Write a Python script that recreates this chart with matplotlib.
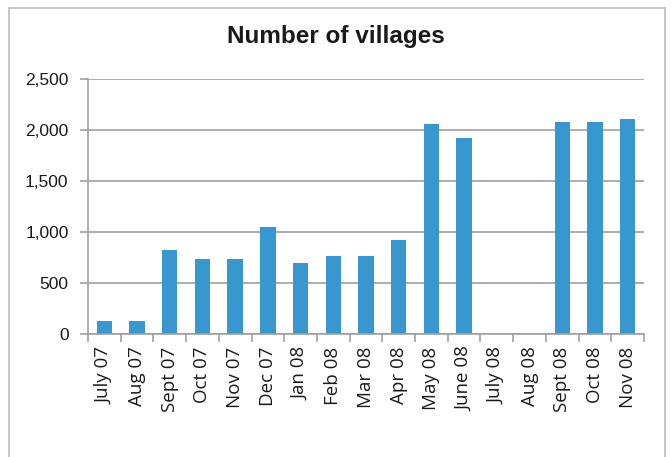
import numpy as np
import matplotlib
matplotlib.use('Agg')
import matplotlib.pyplot as plt
from matplotlib.lines import Line2D
from matplotlib.ticker import FuncFormatter

months = ['July 07', 'Aug 07', 'Sept 07', 'Oct 07', 'Nov 07', 'Dec 07',
          'Jan 08', 'Feb 08', 'Mar 08', 'Apr 08', 'May 08', 'June 08',
          'July 08', 'Aug 08', 'Sept 08', 'Oct 08', 'Nov 08']
villages = [130, 130, 820, 740, 740, 1050, 700, 760, 760, 920,
            2060, 1920, 0, 0, 2080, 2080, 2110]
yticks = [0, 500, 1000, 1500, 2000, 2500]

bar_col = '#3797ce'
grid_col = '#a0a0a0'

fig = plt.figure(figsize=(6.71, 4.57), dpi=100)
ax = fig.add_axes([88/671, 1 - 334/457, (644 - 88)/671, (334 - 79)/457])

x = np.arange(len(months))
ax.bar(x, villages, width=0.47, color=bar_col, zorder=3)

ax.set_xlim(-0.5, len(months) - 0.5)
ax.set_ylim(0, 2500)
ax.set_yticks(yticks)
ax.yaxis.set_major_formatter(FuncFormatter(lambda v, p: '{:,.0f}'.format(v)))
ax.grid(axis='y', color=grid_col, linewidth=1.2, zorder=0)

# category labels at centres, tick marks at the boundaries (Excel style)
ax.set_xticks(x)
ax.set_xticklabels(months, rotation=90, family='Open Sans', fontsize=13.5,
                   color='#1a1a1a')
ax.set_xticks(np.arange(-0.5, len(months)), minor=True)
ax.tick_params(axis='x', which='major', length=0, pad=9)
ax.tick_params(axis='x', which='minor', length=6, width=1.2, color=grid_col,
               direction='out')
ax.tick_params(axis='y', length=6, width=1.2, color=grid_col, pad=8,
               labelsize=12.5, labelcolor='#1a1a1a')
for lab in ax.get_yticklabels():
    lab.set_family('Liberation Sans')

for s in ['top', 'right']:
    ax.spines[s].set_visible(False)
for s in ['left', 'bottom']:
    ax.spines[s].set_color(grid_col)
    ax.spines[s].set_linewidth(1.2)
    ax.spines[s].set_zorder(4)

fig.text(0.5, 1 - 37/457, 'Number of villages', ha='center', va='center',
         family='Liberation Sans', fontweight='bold', fontsize=17.5,
         color='#1a1a1a')

# outer frame
frame_col = '#bdbdbd'
fig.add_artist(Line2D([9/671, 665/671], [1 - 8/457, 1 - 8/457],
                      color=frame_col, linewidth=1.2))
fig.add_artist(Line2D([9/671, 9/671], [0, 1 - 8/457],
                      color=frame_col, linewidth=1.2))
fig.add_artist(Line2D([665/671, 665/671], [0, 1 - 8/457],
                      color=frame_col, linewidth=1.2))

plt.savefig('out.png', dpi=100)
